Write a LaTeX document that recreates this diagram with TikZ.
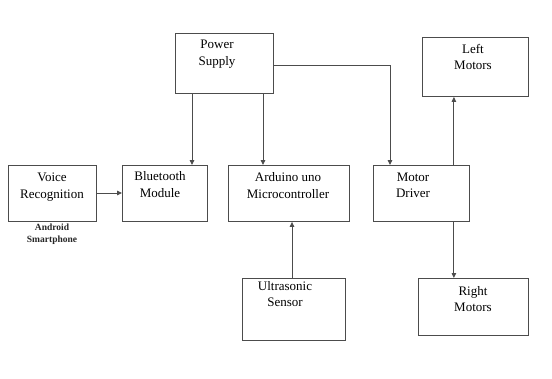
\documentclass[tikz,border=0pt]{standalone}
\usepackage{fontspec}
\setmainfont{Liberation Serif}
\usetikzlibrary{arrows.meta}
\begin{document}
\begin{tikzpicture}[x=1pt,y=-1pt,
  box/.style={draw=black!70, line width=0.9pt, anchor=north west, inner sep=0pt},
  txt/.style={align=center, inner sep=0pt, font=\fontsize{13}{16.5}\selectfont, text=black},
  small/.style={align=center, inner sep=0pt, font=\fontsize{9.5}{12}\selectfont\bfseries, text=black!85},
  arr/.style={draw=black!70, line width=0.9pt, -{Triangle[length=5pt,width=4.5pt]}}]
\useasboundingbox[fill=white] (0,0) rectangle (552,378);
% boxes
\node[box, minimum width=88pt, minimum height=56pt] (voice) at (8,165) {};
\node[box, minimum width=85pt, minimum height=56pt] (bt) at (122,165) {};
\node[box, minimum width=98pt, minimum height=60pt] (power) at (175,33) {};
\node[box, minimum width=121pt, minimum height=56pt] (ard) at (228,165) {};
\node[box, minimum width=96pt, minimum height=56pt] (motor) at (373,165) {};
\node[box, minimum width=106pt, minimum height=59pt] (left) at (422,37) {};
\node[box, minimum width=110pt, minimum height=57pt] (right) at (418,278) {};
\node[box, minimum width=103pt, minimum height=62pt] (ultra) at (242,278) {};
% texts
\node[txt] (voicet) at (52,187) {Voice\\Recognition};
\node[small] (android) at (52,234) {Android\\Smartphone};
\node[txt] (btt) at (160,184.5) {Bluetooth\\Module};
\node[txt] (powert) at (217,54) {Power\\Supply};
\node[txt] (ardt) at (288,185.5) {Arduino uno\\Microcontroller};
\node[txt] (motort) at (413,185.5) {Motor\\Driver};
\node[txt] (leftt) at (473,57) {Left\\Motors};
\node[txt] (rightt) at (473,299) {Right\\Motors};
\node[txt] (ultrat) at (285,294) {Ultrasonic\\Sensor};
% connectors
\draw[arr] (voice.east |- 0,193) -- (bt.west |- 0,193);
\draw[arr] ([xshift=17pt]power.south west) -- ([xshift=17pt]power.south west |- bt.north);
\draw[arr] ([xshift=88pt]power.south west) -- ([xshift=88pt]power.south west |- ard.north);
\draw[arr] ([yshift=-32pt]power.north east) -| ([xshift=17pt]motor.north west);
\draw[arr] ([xshift=50pt]ultra.north west) -- ([xshift=50pt]ultra.north west |- ard.south);
\draw[arr] ([xshift=-16pt]motor.north east) -- ([xshift=-16pt]motor.north east |- left.south);
\draw[arr] ([xshift=-16pt]motor.south east) -- ([xshift=-16pt]motor.south east |- right.north);
\end{tikzpicture}
\end{document}
